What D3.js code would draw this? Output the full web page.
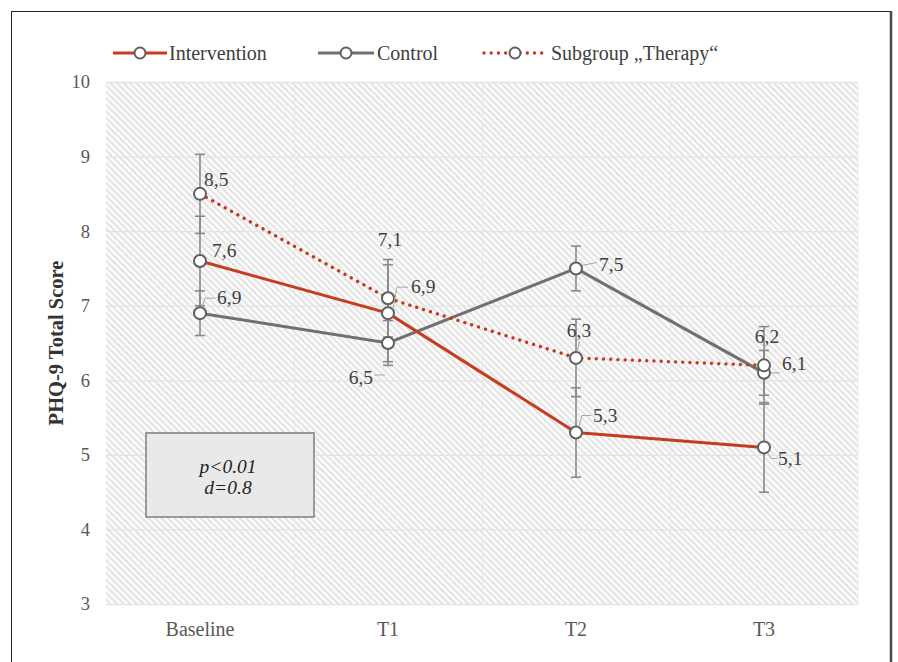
<!DOCTYPE html>
<html>
<head>
<meta charset="utf-8">
<script src="https://cdn.jsdelivr.net/npm/d3@7"></script>
<style>
  html, body { margin: 0; padding: 0; background: #fff; }
  svg { display: block; }
  text { font-family: "Liberation Serif", "Times New Roman", serif; }
</style>
</head>
<body>
<svg id="chart" width="898" height="662"></svg>
<script>
// PHQ-9 total score over time, by group
const categories = ["Baseline", "T1", "T2", "T3"];
const intervention = [7.6, 6.9, 5.3, 5.1];
const control = [6.9, 6.5, 7.5, 6.1];
const subgroup = [8.5, 7.1, 6.3, 6.2];
const interventionErr = [0.6, 0.65, 0.6, 0.6];
const controlErr = [0.3, 0.3, 0.3, 0.3];
const subgroupErr = [0.53, 0.52, 0.52, 0.52];
const yTicks = [3, 4, 5, 6, 7, 8, 9, 10];
const seriesNames = ["Intervention", "Control", "Subgroup \u201eTherapy\u201c"];
const statsLines = ["p<0.01", "d=0.8"];

// Value-label placement: offset of the label from its point, anchor, and leader line (relative to the point)
const labelPlacement = {
  Intervention: [
    { dx: 12, dy: -4, anchor: "start", leader: null },
    { dx: 23, dy: -20, anchor: "start", leader: [[5, -4], [9, -26], [20, -26]] },
    { dx: 17, dy: -10, anchor: "start", leader: [[3, -6], [6, -17], [15, -17]] },
    { dx: 14, dy: 18, anchor: "start", leader: [[4, 6], [7, 11], [13, 11]] }
  ],
  Control: [
    { dx: 17, dy: -9, anchor: "start", leader: [[2, -6], [5, -15], [15, -15]] },
    { dx: -15, dy: 41, anchor: "end", leader: [[-3, 32], [-14, 32]] },
    { dx: 23, dy: 3, anchor: "start", leader: [[6, -3], [21, -6]] },
    { dx: 18, dy: -3, anchor: "start", leader: [[7, 0], [16, 0]] }
  ],
  Subgroup: [
    { dx: 4, dy: -8, anchor: "start", leader: null },
    { dx: 2, dy: -52, anchor: "middle", leader: null },
    { dx: 3, dy: -21, anchor: "middle", leader: [[1, -7], [4, -17]] },
    { dx: 3, dy: -22, anchor: "middle", leader: null }
  ]
};

const svg = d3.select("#chart");

const plot = { left: 106, right: 858, top: 82, bottom: 604 };

const x = d3.scaleBand().domain(categories).range([plot.left, plot.right]);
const y = d3.scaleLinear().domain([3, 10]).range([plot.bottom, plot.top]);
const cx = c => x(c) + x.bandwidth() / 2;

// Outer frame
svg.append("line").attr("x1", 11.5).attr("x2", 11.5).attr("y1", 11).attr("y2", 662)
  .attr("stroke", "#222").attr("stroke-width", 1);
svg.append("line").attr("x1", 11).attr("x2", 892).attr("y1", 11.5).attr("y2", 11.5)
  .attr("stroke", "#222").attr("stroke-width", 1);
svg.append("line").attr("x1", 891).attr("x2", 891).attr("y1", 11).attr("y2", 662)
  .attr("stroke", "#4a4a4a").attr("stroke-width", 2.5);

// Hatched plot background
const defs = svg.append("defs");
const pat = defs.append("pattern")
  .attr("id", "hatch")
  .attr("patternUnits", "userSpaceOnUse")
  .attr("width", 4.6).attr("height", 4.6)
  .attr("patternTransform", "rotate(-45)");
pat.append("rect").attr("width", 4.6).attr("height", 4.6).attr("fill", "#fbfbfb");
pat.append("rect").attr("width", 1.7).attr("height", 4.6).attr("fill", "#e1e1e1");

svg.append("rect")
  .attr("x", plot.left).attr("y", plot.top)
  .attr("width", plot.right - plot.left).attr("height", plot.bottom - plot.top)
  .attr("fill", "url(#hatch)");

// Gridlines
svg.append("g").selectAll("line").data(yTicks).join("line")
  .attr("x1", plot.left).attr("x2", plot.right)
  .attr("y1", d => y(d) + 0.5).attr("y2", d => y(d) + 0.5)
  .attr("stroke", "#e4e4e4").attr("stroke-width", 1.3);
svg.append("g").selectAll("line").data(categories.slice(1)).join("line")
  .attr("x1", d => x(d) + 0.5).attr("x2", d => x(d) + 0.5)
  .attr("y1", plot.top).attr("y2", plot.bottom)
  .attr("stroke", "#e8e8e8").attr("stroke-width", 1);
svg.append("line").attr("x1", plot.right).attr("x2", plot.right)
  .attr("y1", plot.top).attr("y2", plot.bottom)
  .attr("stroke", "#ececec").attr("stroke-width", 1);

// Axes
const yAxis = d3.axisLeft(y).tickValues(yTicks).tickSize(0).tickPadding(16).tickFormat(d3.format("d"));
const gy = svg.append("g").attr("transform", `translate(${plot.left},0)`).call(yAxis);
gy.select(".domain").remove();
gy.selectAll("text").attr("font-size", 18.5).attr("fill", "#595959");

const xAxis = d3.axisBottom(x).tickSize(0).tickPadding(18);
const gx = svg.append("g").attr("transform", `translate(0,${plot.bottom})`).call(xAxis);
gx.select(".domain").remove();
gx.selectAll("text").attr("font-size", 20).attr("fill", "#595959");

// Axis title
svg.append("text")
  .attr("transform", `translate(63,${(plot.top + plot.bottom) / 2}) rotate(-90)`)
  .attr("text-anchor", "middle")
  .attr("font-size", 20.5).attr("font-weight", "bold").attr("fill", "#333")
  .text("PHQ-9 Total Score");

// Series definitions
const series = [
  { key: "Control", values: control, err: controlErr, color: "#707070", dash: null, width: 3 },
  { key: "Intervention", values: intervention, err: interventionErr, color: "#c53d1e", dash: null, width: 3 },
  { key: "Subgroup", values: subgroup, err: subgroupErr, color: "#c8361b", dash: "0.01 7.2", width: 3.4 }
];

const errColor = "#8a8a8a";
const capHalf = 5;

// Error bars
const eg = svg.append("g");
series.forEach(s => {
  const pts = categories.map((c, i) => ({ c, v: s.values[i], e: s.err[i] }));
  eg.selectAll(null).data(pts).join("line")
    .attr("x1", d => cx(d.c)).attr("x2", d => cx(d.c))
    .attr("y1", d => y(d.v + d.e)).attr("y2", d => y(d.v - d.e))
    .attr("stroke", errColor).attr("stroke-width", 1.6);
  ["+", "-"].forEach(sign => {
    eg.selectAll(null).data(pts).join("line")
      .attr("x1", d => cx(d.c) - capHalf).attr("x2", d => cx(d.c) + capHalf)
      .attr("y1", d => y(sign === "+" ? d.v + d.e : d.v - d.e))
      .attr("y2", d => y(sign === "+" ? d.v + d.e : d.v - d.e))
      .attr("stroke", errColor).attr("stroke-width", 1.6);
  });
});

// Lines
const line = d3.line().x(d => cx(d.c)).y(d => y(d.v));
series.forEach(s => {
  const pts = categories.map((c, i) => ({ c, v: s.values[i] }));
  svg.append("path").datum(pts)
    .attr("d", line)
    .attr("fill", "none")
    .attr("stroke", s.color)
    .attr("stroke-width", s.width)
    .attr("stroke-linecap", s.dash ? "round" : "butt")
    .attr("stroke-dasharray", s.dash);
});

// Markers
series.forEach(s => {
  const pts = categories.map((c, i) => ({ c, v: s.values[i] }));
  svg.append("g").selectAll("circle").data(pts).join("circle")
    .attr("cx", d => cx(d.c)).attr("cy", d => y(d.v)).attr("r", 6)
    .attr("fill", "#fff").attr("stroke", "#5f5f5f").attr("stroke-width", 2);
});

// Value labels with leader lines
const fmt = v => d3.format(".1f")(v).replace(".", ",");
const lg = svg.append("g");
series.forEach(s => {
  const place = labelPlacement[s.key];
  categories.forEach((c, i) => {
    const px = cx(c), py = y(s.values[i]);
    const p = place[i];
    if (p.leader) {
      lg.append("path")
        .attr("d", d3.line()(p.leader.map(([a, b]) => [px + a, py + b])))
        .attr("fill", "none").attr("stroke", "#a6a6a6").attr("stroke-width", 1);
    }
    lg.append("text")
      .attr("x", px + p.dx).attr("y", py + p.dy)
      .attr("text-anchor", p.anchor)
      .attr("font-size", 19.5).attr("fill", "#404040")
      .text(fmt(s.values[i]));
  });
});

// Statistics box
const box = { x: 146, y: 433, w: 168, h: 84 };
svg.append("rect")
  .attr("x", box.x).attr("y", box.y).attr("width", box.w).attr("height", box.h)
  .attr("fill", "#e9e9e9").attr("stroke", "#7f7f7f").attr("stroke-width", 1.5);
svg.append("g").selectAll("text").data(statsLines).join("text")
  .attr("x", box.x + box.w / 2 - 2)
  .attr("y", (d, i) => 473 + i * 21)
  .attr("text-anchor", "middle")
  .attr("font-size", 19.5).attr("font-style", "italic").attr("fill", "#1f1f1f")
  .text(d => d);

// Legend
const legendItems = [
  { name: seriesNames[0], color: "#c53d1e", dash: null, x0: 113, x1: 167, tx: 169 },
  { name: seriesNames[1], color: "#707070", dash: null, x0: 318, x1: 374, tx: 377 },
  { name: seriesNames[2], color: "#c8361b", dash: "0.01 7.2", x0: 484, x1: 546, tx: 551 }
];
const legY = 53;
const lgd = svg.append("g");
legendItems.forEach(it => {
  lgd.append("line")
    .attr("x1", it.x0).attr("x2", it.x1).attr("y1", legY).attr("y2", legY)
    .attr("stroke", it.color).attr("stroke-width", it.dash ? 3.4 : 3)
    .attr("stroke-linecap", it.dash ? "round" : "butt")
    .attr("stroke-dasharray", it.dash);
  lgd.append("circle")
    .attr("cx", (it.x0 + it.x1) / 2).attr("cy", legY).attr("r", 5.5)
    .attr("fill", "#fff").attr("stroke", "#5f5f5f").attr("stroke-width", 2);
  lgd.append("text")
    .attr("x", it.tx).attr("y", legY + 6.5)
    .attr("font-size", 20).attr("fill", "#404040")
    .text(it.name);
});
</script>
</body>
</html>
